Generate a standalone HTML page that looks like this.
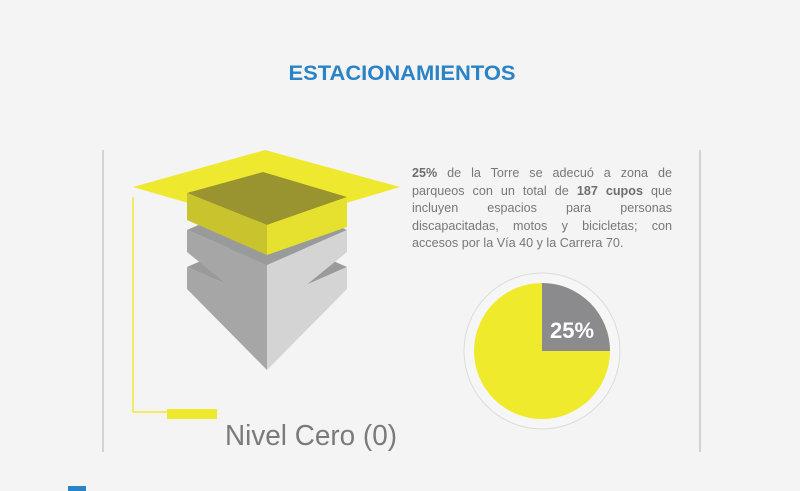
<!DOCTYPE html>
<html><head><meta charset="utf-8"><style>
html,body{margin:0;padding:0;}
body{width:800px;height:491px;overflow:hidden;background:#f4f4f4;font-family:"Liberation Sans",sans-serif;position:relative;}
</style></head><body>
<svg width="800" height="491" viewBox="0 0 800 491" xmlns="http://www.w3.org/2000/svg" style="position:absolute;left:0;top:0">
<rect width="800" height="491" fill="#f4f4f4"/>
<text x="402" y="80" text-anchor="middle" font-family="Liberation Sans, sans-serif" font-weight="bold" font-size="21" fill="#2a83c6" textLength="227" lengthAdjust="spacingAndGlyphs">ESTACIONAMIENTOS</text>
<line x1="103" y1="150" x2="103" y2="452" stroke="#d3d3d3" stroke-width="2"/>
<line x1="700" y1="150" x2="700" y2="452" stroke="#d3d3d3" stroke-width="2"/>
<!-- gray layer 2 -->
<polygon points="187,267 267,232 347,267 267,302" fill="#999a9c"/>
<polygon points="187,267 267,302 267,370 187,289" fill="#a6a6a6"/>
<polygon points="267,302 347,267 347,289 267,370" fill="#d4d4d4"/>
<!-- gray layer 1 -->
<polygon points="187,230 267,195 347,230 267,265" fill="#999a9c"/>
<polygon points="187,230 267,265 267,317 187,252" fill="#a6a6a6"/>
<polygon points="267,265 347,230 347,252 267,317" fill="#d4d4d4"/>
<!-- yellow plane -->
<polygon points="133,187 265,150 400,187 268,226" fill="#eee82f"/>
<!-- olive box -->
<polygon points="187,193 263,172 347,197 267,225" fill="#9a9430"/>
<polygon points="187,193 267,225 267,255 187,220" fill="#c9c32e"/>
<polygon points="267,225 347,197 347,227 267,255" fill="#e6e12e"/>
<!-- leader line -->
<polyline points="133,197 133,412 167,412" fill="none" stroke="#eee82f" stroke-width="1.5"/>
<rect x="167" y="409" width="50" height="10" fill="#eee82f"/>
<text x="225" y="445" font-family="Liberation Sans, sans-serif" font-size="29" fill="#7a7a7a" textLength="172" lengthAdjust="spacingAndGlyphs">Nivel Cero (0)</text>
<!-- pie -->
<circle cx="542" cy="351" r="78" fill="#f6f6f6" stroke="#dcdcdc" stroke-width="1"/>
<circle cx="542" cy="351" r="68" fill="#f0ea2c"/>
<path d="M542,351 L542,283 A68,68 0 0 1 610,351 Z" fill="#8b8b8d"/>
<text x="572" y="338" text-anchor="middle" font-family="Liberation Sans, sans-serif" font-weight="bold" font-size="22" fill="#ffffff">25%</text>
<rect x="68" y="486" width="18" height="5" fill="#2a83c6"/>
</svg>
<div style="position:absolute;left:412px;top:165px;width:260px;font-size:12.6px;line-height:17.6px;color:#777;text-align:justify;text-align-last:left;">
<b style="color:#6e6e6e">25%</b> de la Torre se adecuó a zona de parqueos con un total de <b style="color:#6e6e6e">187 cupos</b> que incluyen espacios para personas discapacitadas, motos y bicicletas; con accesos por la Vía 40 y la Carrera 70.
</div>
</body></html>
